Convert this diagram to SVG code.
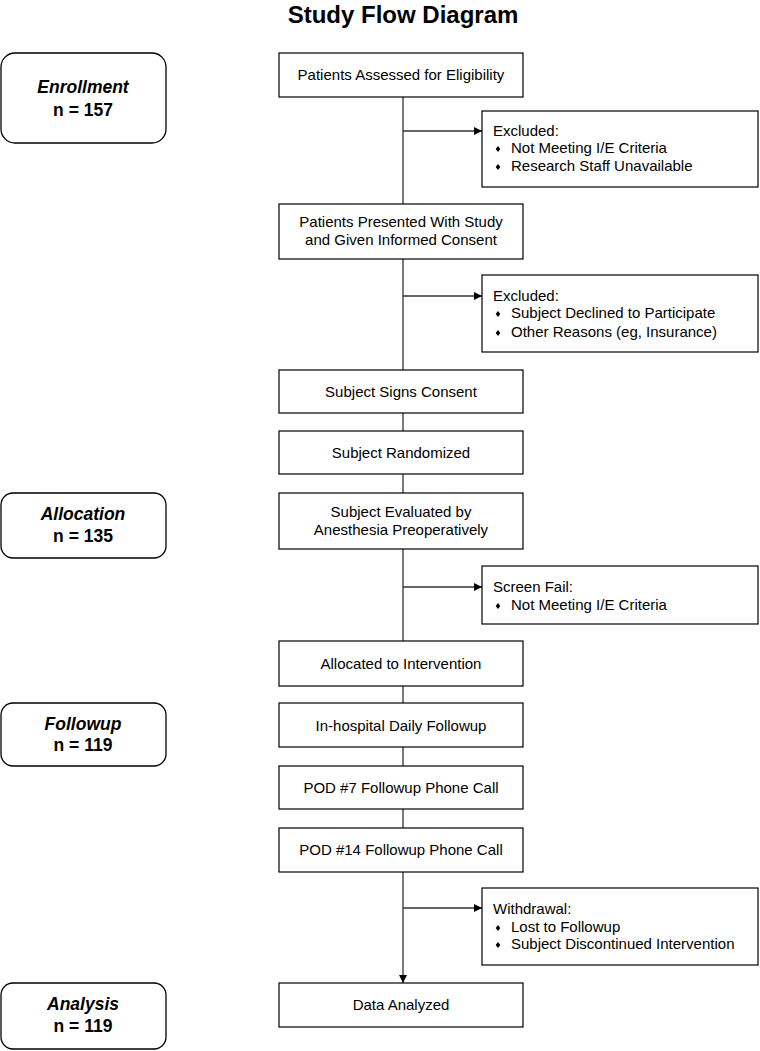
<svg xmlns="http://www.w3.org/2000/svg" width="760" height="1051" viewBox="0 0 760 1051">
<style>
  text { font-family: "Liberation Sans", Arial, sans-serif; fill: #000; }
  .title { font-size: 24px; font-weight: bold; text-anchor: middle; }
  .phase rect { fill: #fff; stroke: #000; stroke-width: 1.3; }
  .phase text { font-size: 17.5px; font-weight: bold; text-anchor: middle; }
  .phase .it { font-style: italic; }
  .step rect, .side rect { fill: #fff; stroke: #000; stroke-width: 1.2; }
  .step text { font-size: 15px; text-anchor: middle; }
  .side text { font-size: 15px; }
  .conn line { stroke: #333; stroke-width: 1.3; fill: none; }
</style>
<defs>
  <marker id="arr" viewBox="0 0 10 10" refX="10" refY="5" markerWidth="10" markerHeight="8" markerUnits="userSpaceOnUse" orient="auto">
    <path d="M0,0 L10,5 L0,10 Z" fill="#000"/>
  </marker>
  <path id="dia" d="M0,-3 L2.3,0 L0,3 L-2.3,0 Z" fill="#000"/>
</defs>

<rect width="760" height="1051" fill="#fff"/>
<text class="title" x="403" y="23">Study Flow Diagram</text>

<g id="connectors" class="conn">
  <line x1="403" y1="97" x2="403" y2="204"/>
  <line x1="403" y1="131" x2="482" y2="131" marker-end="url(#arr)"/>
  <line x1="403" y1="259" x2="403" y2="370"/>
  <line x1="403" y1="296" x2="482" y2="296" marker-end="url(#arr)"/>
  <line x1="403" y1="413" x2="403" y2="431"/>
  <line x1="403" y1="474" x2="403" y2="493"/>
  <line x1="403" y1="549" x2="403" y2="641"/>
  <line x1="403" y1="587" x2="482" y2="587" marker-end="url(#arr)"/>
  <line x1="403" y1="686" x2="403" y2="703"/>
  <line x1="403" y1="747" x2="403" y2="766"/>
  <line x1="403" y1="809" x2="403" y2="828"/>
  <line x1="403" y1="872" x2="403" y2="983" marker-end="url(#arr)"/>
  <line x1="403" y1="908" x2="482" y2="908" marker-end="url(#arr)"/>
</g>

<g id="phase-enrollment" class="phase">
  <rect x="1" y="53" width="165" height="90" rx="14"/>
  <text class="it" x="83" y="93">Enrollment</text>
  <text x="83" y="116">n = 157</text>
</g>
<g id="phase-allocation" class="phase">
  <rect x="1" y="493" width="165" height="65" rx="12"/>
  <text class="it" x="83" y="520">Allocation</text>
  <text x="83" y="542">n = 135</text>
</g>
<g id="phase-followup" class="phase">
  <rect x="1" y="703" width="165" height="63" rx="12"/>
  <text class="it" x="83" y="730">Followup</text>
  <text x="83" y="751">n = 119</text>
</g>
<g id="phase-analysis" class="phase">
  <rect x="1" y="983" width="165" height="66" rx="12"/>
  <text class="it" x="83" y="1010">Analysis</text>
  <text x="83" y="1032">n = 119</text>
</g>

<g id="step-assessed" class="step">
  <rect x="279" y="53" width="244" height="44"/>
  <text x="401" y="80">Patients Assessed for Eligibility</text>
</g>
<g id="step-presented" class="step">
  <rect x="279" y="204" width="244" height="55"/>
  <text x="401" y="227">Patients Presented With Study</text>
  <text x="401" y="245">and Given Informed Consent</text>
</g>
<g id="step-signs" class="step">
  <rect x="279" y="370" width="244" height="43"/>
  <text x="401" y="397">Subject Signs Consent</text>
</g>
<g id="step-randomized" class="step">
  <rect x="279" y="431" width="244" height="43"/>
  <text x="401" y="458">Subject Randomized</text>
</g>
<g id="step-evaluated" class="step">
  <rect x="279" y="493" width="244" height="56"/>
  <text x="401" y="517">Subject Evaluated by</text>
  <text x="401" y="535">Anesthesia Preoperatively</text>
</g>
<g id="step-allocated" class="step">
  <rect x="279" y="641" width="244" height="45"/>
  <text x="401" y="669">Allocated to Intervention</text>
</g>
<g id="step-inhospital" class="step">
  <rect x="279" y="703" width="244" height="44"/>
  <text x="401" y="731">In-hospital Daily Followup</text>
</g>
<g id="step-pod7" class="step">
  <rect x="279" y="766" width="244" height="43"/>
  <text x="401" y="793">POD #7 Followup Phone Call</text>
</g>
<g id="step-pod14" class="step">
  <rect x="279" y="828" width="244" height="44"/>
  <text x="401" y="855">POD #14 Followup Phone Call</text>
</g>
<g id="step-analyzed" class="step">
  <rect x="279" y="983" width="244" height="44"/>
  <text x="401" y="1010">Data Analyzed</text>
</g>

<g id="side-excluded1" class="side">
  <rect x="482" y="111" width="276" height="76"/>
  <text x="493" y="136">Excluded:</text>
  <use href="#dia" x="498" y="149"/>
  <text x="511" y="153">Not Meeting I/E Criteria</text>
  <use href="#dia" x="498" y="167"/>
  <text x="511" y="171">Research Staff Unavailable</text>
</g>
<g id="side-excluded2" class="side">
  <rect x="482" y="275" width="276" height="77"/>
  <text x="493" y="301">Excluded:</text>
  <use href="#dia" x="498" y="314"/>
  <text x="511" y="318">Subject Declined to Participate</text>
  <use href="#dia" x="498" y="333"/>
  <text x="511" y="337">Other Reasons (eg, Insurance)</text>
</g>
<g id="side-screenfail" class="side">
  <rect x="482" y="566" width="276" height="58"/>
  <text x="493" y="592">Screen Fail:</text>
  <use href="#dia" x="498" y="606"/>
  <text x="511" y="610">Not Meeting I/E Criteria</text>
</g>
<g id="side-withdrawal" class="side">
  <rect x="482" y="888" width="276" height="77"/>
  <text x="493" y="914">Withdrawal:</text>
  <use href="#dia" x="498" y="928"/>
  <text x="511" y="932">Lost to Followup</text>
  <use href="#dia" x="498" y="945"/>
  <text x="511" y="949">Subject Discontinued Intervention</text>
</g>
</svg>
